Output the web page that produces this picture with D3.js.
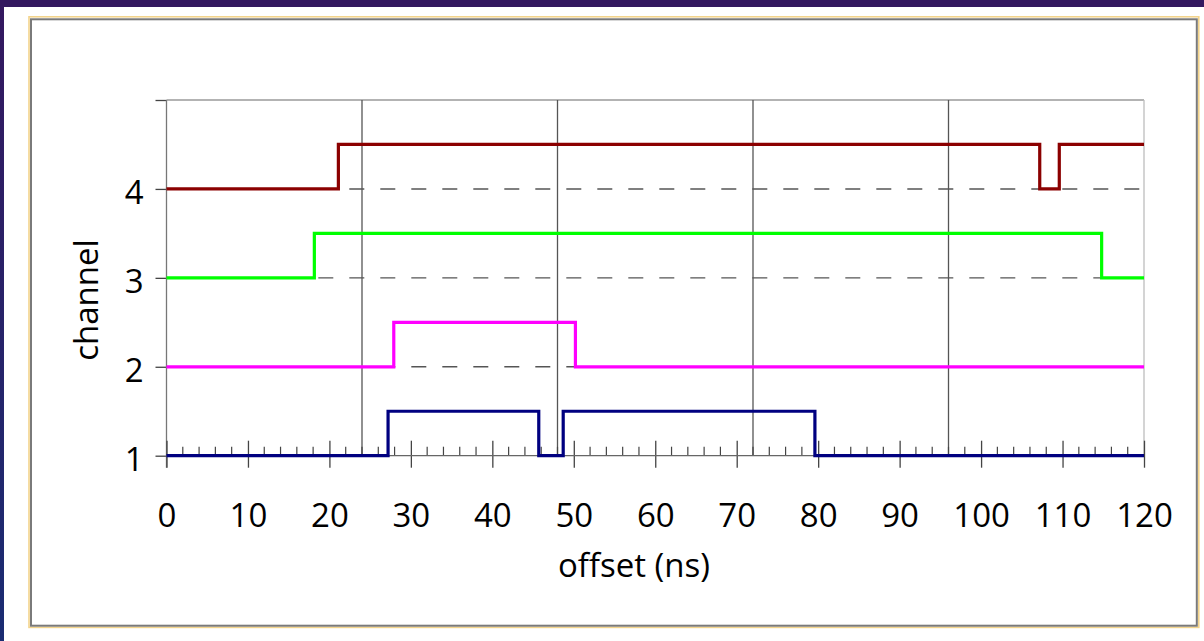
<!DOCTYPE html>
<html>
<head>
<meta charset="utf-8">
<script src="https://cdn.jsdelivr.net/npm/d3@7"></script>
<style>
  html, body { margin: 0; padding: 0; background: #ffffff; }
  svg { display: block; }
  text { font-family: "Open Sans", "Liberation Sans", sans-serif; fill: #000; }
</style>
</head>
<body>
<svg id="chart" width="1204" height="641"></svg>
<script>
// ---- data ----
const xTickValues = [0, 10, 20, 30, 40, 50, 60, 70, 80, 90, 100, 110, 120];
const xMinorStep = 2;
const xGridValues = [24, 48, 72, 96];
const yTickValues = [1, 2, 3, 4, 5];
const yTickLabels = ["1", "2", "3", "4", ""];
const yDashedValues = [2, 3, 4];

// channel traces: edge times (ns) and level held from each edge on
const ch1Times  = [0, 27.2, 45.7, 48.7, 79.6, 120];
const ch1Levels = [1, 1.5, 1, 1.5, 1, 1];
const ch2Times  = [0, 27.9, 50.2, 120];
const ch2Levels = [2, 2.5, 2, 2];
const ch3Times  = [0, 18.15, 114.8, 120];
const ch3Levels = [3, 3.5, 3, 3];
const ch4Times  = [0, 21.1, 107.2, 109.6, 120];
const ch4Levels = [4, 4.5, 4, 4.5, 4.5];
const channelColors = ["#000080", "#ff00ff", "#00ff00", "#8b0000"];

const xLabel = "offset (ns)";
const yLabel = "channel";

// ---- layout ----
const W = 1204, H = 641;
const plot = { left: 166.5, right: 1144, top: 100, bottom: 455.7 };

const svg = d3.select("#chart");

// slide background pieces
const defs = svg.append("defs");
const lg = defs.append("linearGradient").attr("id", "leftStrip")
  .attr("x1", 0).attr("y1", 0).attr("x2", 0).attr("y2", 1);
lg.append("stop").attr("offset", "0%").attr("stop-color", "#34185f");
lg.append("stop").attr("offset", "100%").attr("stop-color", "#1a2c72");
svg.append("rect").attr("x", 0).attr("y", 0).attr("width", W).attr("height", H).attr("fill", "#ffffff");
svg.append("rect").attr("x", 0).attr("y", 0).attr("width", W).attr("height", 7).attr("fill", "#33185f");
svg.append("rect").attr("x", 0).attr("y", 0).attr("width", 4).attr("height", H).attr("fill", "url(#leftStrip)");

// chart frame
svg.append("rect").attr("x", 29).attr("y", 16.8).attr("width", 1169.8).attr("height", 610.6)
  .attr("fill", "none").attr("stroke", "#f3d48c").attr("stroke-width", 1.6);
svg.append("rect").attr("x", 31).attr("y", 19.3).attr("width", 1165.8).attr("height", 606.4)
  .attr("fill", "#ffffff").attr("stroke", "#7a7a7a").attr("stroke-width", 2);

const x = d3.scaleLinear().domain([0, 120]).range([plot.left, plot.right]);
const y = d3.scaleLinear().domain([1, 5]).range([plot.bottom, plot.top]);

// plot border top / right
svg.append("line").attr("x1", plot.left).attr("x2", plot.right).attr("y1", y(5)).attr("y2", y(5))
  .attr("stroke", "#9a9a9a").attr("stroke-width", 1.3);
svg.append("line").attr("x1", plot.right).attr("x2", plot.right).attr("y1", plot.top).attr("y2", plot.bottom)
  .attr("stroke", "#bdbdbd").attr("stroke-width", 1.3);

// vertical gridlines
svg.append("g").selectAll("line").data(xGridValues).join("line")
  .attr("x1", d => x(d)).attr("x2", d => x(d))
  .attr("y1", plot.top).attr("y2", plot.bottom)
  .attr("stroke", "#555").attr("stroke-width", 1.3);

// dashed horizontal gridlines
svg.append("g").selectAll("line").data(yDashedValues).join("line")
  .attr("x1", plot.left).attr("x2", plot.right)
  .attr("y1", d => y(d)).attr("y2", d => y(d))
  .attr("stroke", "#555").attr("stroke-width", 1.4)
  .attr("stroke-dasharray", "15,16").attr("stroke-dashoffset", 3.2);

// y axis
const yAxis = d3.axisLeft(y).tickValues(yTickValues)
  .tickFormat((d, i) => yTickLabels[i]).tickSize(11).tickPadding(12);
const gy = svg.append("g").attr("transform", `translate(${plot.left},0)`).call(yAxis);
gy.select(".domain").remove();
gy.selectAll(".tick line").attr("stroke", "#444").attr("stroke-width", 1.3);
gy.selectAll(".tick text").attr("font-size", 33).attr("dy", "0.45em")
  .attr("font-family", "'Open Sans', sans-serif");
svg.append("line").attr("x1", plot.left).attr("x2", plot.left).attr("y1", plot.top).attr("y2", plot.bottom + 12)
  .attr("stroke", "#777").attr("stroke-width", 1.3);

// x axis (crosses at channel 1)
const minorVals = d3.range(0, 120 + 0.001, xMinorStep).filter(v => v % 10 !== 0);
const gMinor = svg.append("g").attr("transform", `translate(0,${y(1)})`);
gMinor.selectAll("line").data(minorVals).join("line")
  .attr("x1", d => x(d)).attr("x2", d => x(d)).attr("y1", -9).attr("y2", 0)
  .attr("stroke", "#444").attr("stroke-width", 1.2);
const xAxis = d3.axisBottom(x).tickValues(xTickValues).tickFormat(d3.format("d"))
  .tickSize(12).tickPadding(36);
const gx = svg.append("g").attr("transform", `translate(0,${y(1)})`).call(xAxis);
gx.select(".domain").remove();
gx.selectAll(".tick line").attr("y1", -15).attr("stroke", "#444").attr("stroke-width", 1.3);
gx.selectAll(".tick text").attr("font-size", 33).attr("font-family", "'Open Sans', sans-serif");
svg.append("line").attr("x1", plot.left).attr("x2", plot.right).attr("y1", y(1)).attr("y2", y(1))
  .attr("stroke", "#666").attr("stroke-width", 1.3);

// traces
const traces = [
  ch1Times.map((t, i) => [t, ch1Levels[i]]),
  ch2Times.map((t, i) => [t, ch2Levels[i]]),
  ch3Times.map((t, i) => [t, ch3Levels[i]]),
  ch4Times.map((t, i) => [t, ch4Levels[i]])
];
const line = d3.line().x(d => x(d[0])).y(d => y(d[1])).curve(d3.curveStepAfter);
svg.append("g").selectAll("path").data(traces).join("path")
  .attr("d", line).attr("fill", "none")
  .attr("stroke", (d, i) => channelColors[i]).attr("stroke-width", 3.2)
  .attr("stroke-linejoin", "miter").attr("stroke-linecap", "butt");

// axis titles
svg.append("text").attr("x", 634).attr("y", 577).attr("text-anchor", "middle")
  .attr("font-size", 33).text(xLabel);
svg.append("text").attr("transform", "translate(98,300) rotate(-90)").attr("text-anchor", "middle")
  .attr("font-size", 33).text(yLabel);
</script>
</body>
</html>
